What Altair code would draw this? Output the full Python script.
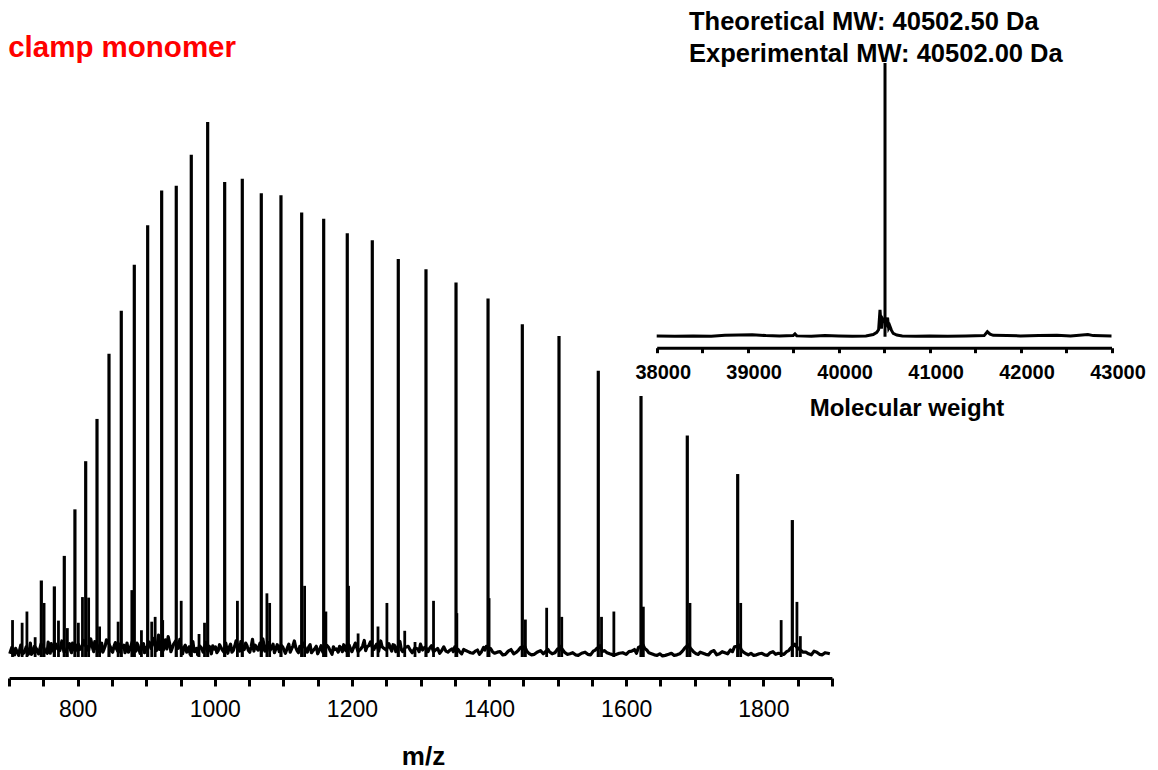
import altair as alt
import pandas as pd

FONT = "Liberation Sans"

# ---- main spectrum: charge-state peaks (m/z, relative intensity) ----
peak_mz = [747, 766, 780.5, 796, 811.7, 828.2, 845.7, 863.6, 882.6, 902.1, 922.5,
           943.8, 965.7, 989.6, 1014.4, 1040.1, 1067.8, 1096.5, 1126.7, 1158.8,
           1193.2, 1229.7, 1267.6, 1308, 1351.8, 1398.5, 1448.5, 1502, 1559.3,
           1621.6, 1689.1, 1762.6, 1842.3]
peak_int = [14.3, 13.2, 18.9, 27.6, 36.6, 44.5, 56.7, 64.7, 73.3, 80.7, 87.2,
            88.1, 93.9, 100, 88.8, 89.4, 86.7, 86.3, 83.1, 81.9,
            79.2, 77.9, 74.4, 72.5, 70.0, 67.0, 62.2, 60.0, 53.5,
            48.8, 41.4, 34.2, 25.6]

# ---- small side peaks / adducts ----
minor_mz = [705, 719, 726, 738, 751, 772, 785, 801, 807, 816, 832, 859, 879, 893,
            908, 913, 924, 951, 977, 985, 1033, 1076, 1080, 1131, 1162, 1195,
            1209, 1238, 1251, 1277, 1292, 1319, 1353, 1400, 1453, 1484, 1506,
            1564, 1582, 1625, 1693, 1767, 1826, 1849, 1854]
minor_int = [6.9, 6.4, 8.5, 3.7, 10.1, 6.8, 5.4, 6.4, 11.2, 11.1, 5.7, 6.6, 12.5, 5.0,
             6.6, 7.5, 6.9, 10.5, 4.3, 6.4, 10.5, 11.9, 10.1, 13.3, 8.5, 13.3,
             4.4, 5.7, 10.1, 4.9, 2.8, 10.5, 8.2, 11.0, 7.0, 9.2, 7.5,
             7.5, 8.5, 9.4, 10.1, 10.1, 6.9, 10.3, 3.9]

# ---- baseline noise trace ----
noise_mz = [701, 704, 708, 711, 714, 717, 722, 728, 731, 734,
            740, 743, 750, 754, 757, 760, 763, 768, 774, 777,
            783, 788, 791, 794, 799, 803, 809, 813, 819, 822,
            825, 830, 835, 838, 842, 848, 851, 855, 858, 861,
            866, 869, 872, 876, 880, 885, 888, 891, 896, 899,
            904, 910, 915, 918, 921, 925, 928, 932, 936, 940,
            946, 949, 953, 957, 961, 964, 968, 972, 975, 980,
            983, 987, 992, 995, 999, 1003, 1007, 1011, 1016, 1019,
            1023, 1027, 1031, 1035, 1038, 1043, 1047, 1051, 1055, 1059,
            1063, 1066, 1070, 1073, 1078, 1083, 1087, 1091, 1094, 1099,
            1103, 1108, 1112, 1116, 1120, 1124, 1129, 1133, 1137, 1141,
            1146, 1150, 1155, 1160, 1166, 1171, 1175, 1180, 1184, 1188,
            1191, 1196, 1200, 1205, 1213, 1218, 1222, 1227, 1232, 1236,
            1242, 1246, 1254, 1258, 1262, 1266, 1270, 1274, 1282, 1288,
            1296, 1300, 1306, 1311, 1316, 1322, 1328, 1334, 1340, 1346,
            1350, 1355, 1360, 1366, 1373, 1380, 1386, 1392, 1396, 1402,
            1408, 1416, 1424, 1432, 1440, 1446, 1452, 1458, 1466, 1475,
            1488, 1492, 1500, 1504, 1510, 1518, 1526, 1535, 1544, 1552,
            1557, 1562, 1568, 1576, 1586, 1595, 1604, 1612, 1618, 1624,
            1630, 1637, 1645, 1653, 1662, 1670, 1678, 1685, 1690, 1698,
            1705, 1712, 1720, 1728, 1736, 1744, 1752, 1758, 1765, 1771,
            1778, 1786, 1794, 1802, 1810, 1818, 1822, 1834, 1840, 1846,
            1852, 1858, 1866, 1874, 1882, 1890, 1897]
noise_int = [0.6, 1.8, 0.4, 1.2, 0.3, 2.2, 0.8, 0.5, 2.6, 0.7,
             1.5, 0.6, 1.9, 0.9, 2.8, 0.7, 1.6, 2.4, 1.2, 3.0,
             1.1, 2.5, 0.8, 1.7, 2.2, 1.4, 3.1, 2.0, 3.4, 1.6,
             2.9, 1.0, 2.6, 1.3, 3.2, 1.8, 0.9, 2.7, 1.2, 2.4,
             1.9, 0.8, 2.6, 1.4, 3.0, 1.1, 2.2, 0.7, 2.5, 1.5,
             2.8, 3.5, 1.2, 4.1, 2.0, 1.3, 3.2, 3.8, 1.0, 2.4,
             1.6, 3.3, 0.6, 2.2, 1.4, 0.5, 2.9, 1.1, 0.4, 1.8,
             0.9, 2.7, 2.0, 0.6, 1.5, 0.8, 2.3, 1.3, 2.6, 0.7,
             2.4, 1.2, 3.0, 1.6, 2.9, 1.4, 2.1, 0.9, 3.3, 2.2,
             1.3, 2.6, 3.4, 1.1, 2.7, 1.8, 0.8, 2.3, 1.0, 1.9,
             0.7, 2.4, 1.5, 3.0, 1.2, 2.0, 2.6, 1.4, 1.9, 0.8,
             1.6, 0.6, 2.1, 1.3, 1.8, 0.5, 1.4, 0.9, 1.7, 2.3,
             1.2, 2.2, 1.0, 2.6, 1.5, 3.1, 1.9, 2.8, 1.4, 2.4,
             3.0, 1.7, 2.5, 1.1, 2.2, 1.6, 2.9, 1.0, 2.0, 0.8,
             1.5, 2.4, 1.8, 1.0, 2.1, 1.3, 0.7, 1.9, 0.9, 1.5,
             1.9, 1.4, 0.6, 1.2, 0.8, 1.1, 0.5, 1.8, 2.0, 1.6,
             0.7, 1.0, 0.5, 1.4, 0.9, 1.8, 2.0, 0.7, 0.5, 1.2,
             1.0, 0.6, 1.5, 2.0, 0.9, 0.6, 0.4, 0.7, 0.5, 1.1,
             1.6, 2.1, 1.2, 0.6, 0.5, 0.8, 1.0, 1.4, 1.8, 2.4,
             1.3, 0.6, 0.3, 0.2, 0.5, 0.3, 0.6, 1.6, 2.3, 1.0,
             0.5, 0.7, 0.4, 1.2, 0.6, 0.8, 1.3, 1.9, 2.2, 0.9,
             0.4, 0.3, 0.6, 0.4, 0.8, 0.5, 0.7, 1.0, 1.7, 2.4,
             1.5, 0.9, 0.6, 1.1, 0.5, 0.8, 0.6]

# extra noise samples read between the ones above (dense low-m/z region)
noise2_mz = [702.5, 706, 709.5, 712.5, 715.5, 719.5, 725, 729.5, 732.5, 737,
             741.5, 746.5, 752, 755.5, 758.5, 761.5, 765.5, 771, 775.5, 780,
             785.5, 789.5, 792.5, 796.5, 801, 806, 811, 816, 820.5, 823.5,
             827.5, 832.5, 836.5, 840, 845, 849.5, 853, 856.5, 859.5, 863.5,
             867.5, 870.5, 874, 878, 882.5, 886.5, 889.5, 893.5, 897.5, 901.5,
             907, 912.5, 916.5, 919.5, 923, 926.5, 930, 934, 938, 943,
             947.5, 951, 955, 959, 962.5, 966, 970, 973.5, 977.5, 981.5,
             985, 989.5, 993.5, 997, 1001, 1005, 1009, 1013.5, 1017.5, 1021,
             1025, 1029, 1033, 1036.5, 1040.5, 1045, 1049, 1053, 1057, 1061,
             1064.5, 1068, 1071.5, 1075.5, 1080.5, 1085, 1089, 1092.5, 1096.5, 1101,
             1105.5, 1110, 1114, 1118, 1122, 1126.5, 1131, 1135, 1139, 1143.5,
             1148, 1152.5, 1157.5, 1163, 1168.5, 1173, 1177.5, 1182, 1186, 1189.5,
             1193.5, 1198, 1202.5, 1209, 1215.5, 1220, 1224.5, 1229.5, 1234, 1239,
             1244, 1250, 1256, 1260, 1264, 1268, 1272, 1278, 1285, 1292,
             1298, 1303, 1308.5, 1313.5, 1319, 1325, 1331, 1337, 1343, 1348,
             1352.5, 1357.5, 1363, 1369.5, 1376.5, 1383, 1389, 1394, 1399, 1405]
noise2_int = [1.2, 0.5, 1.6, 0.8, 1.4, 0.6, 1.9, 1.1, 0.5, 2.0,
              0.9, 2.4, 1.3, 0.7, 1.8, 2.5, 0.9, 1.5, 2.1, 1.0,
              2.0, 1.3, 2.6, 1.1, 2.4, 1.9, 2.2, 1.2, 2.5, 1.0,
              1.7, 2.3, 0.9, 2.0, 2.6, 1.1, 2.0, 1.6, 0.9, 1.7,
              2.2, 1.5, 0.9, 2.2, 1.7, 2.6, 1.4, 1.9, 0.8, 2.0,
              1.6, 2.3, 2.7, 1.4, 2.9, 2.4, 1.5, 2.6, 1.7, 3.0,
              2.2, 1.5, 1.8, 0.9, 1.9, 1.3, 1.0, 1.6, 2.1, 1.4,
              1.8, 1.1, 1.3, 2.1, 1.9, 1.2, 1.8, 0.9, 1.5, 1.8,
              0.9, 2.0, 2.3, 1.1, 1.7, 2.6, 1.2, 1.9, 1.1, 1.7,
              2.0, 1.0, 2.4, 1.9, 1.2, 2.4, 1.5, 1.8, 2.2, 1.3,
              1.6, 0.9, 2.1, 1.8, 0.8, 1.7, 1.9, 0.9, 2.3, 1.2,
              2.0, 1.3, 0.9, 2.2, 1.1, 1.9, 1.5, 2.0, 1.0, 1.6,
              2.5, 1.5, 1.8, 1.0, 2.0, 1.2, 2.1, 1.9, 2.0, 1.1,
              1.9, 1.3, 1.7, 2.3, 1.0, 2.2, 1.4, 1.8, 1.3, 1.7,
              1.0, 1.3, 1.6, 1.7, 1.0, 1.6, 1.2, 1.1, 1.3, 1.0,
              1.2, 0.9, 1.4, 1.0, 0.7, 1.3, 1.0, 1.3, 1.7, 1.0]

# extra noise samples for the quieter high-m/z region
noise3_mz = [1412, 1420, 1428, 1436, 1443, 1449, 1455, 1462, 1470, 1479,
             1486, 1496, 1502.5, 1507, 1514, 1522, 1530, 1540, 1548, 1555,
             1560, 1565, 1572, 1581, 1590, 1600, 1608, 1615, 1621, 1627,
             1633, 1641, 1649, 1657, 1666, 1674, 1682, 1688, 1694, 1702,
             1708, 1716, 1724, 1732, 1740, 1748, 1755, 1762, 1768, 1775,
             1782, 1790, 1798, 1806, 1814, 1830, 1837, 1843, 1849, 1855,
             1862, 1870, 1878, 1886, 1894]
noise3_int = [0.9, 0.4, 1.1, 0.6, 1.3, 1.5, 1.1, 0.4, 0.9, 0.6,
              1.4, 0.8, 1.3, 1.4, 0.5, 0.8, 0.3, 0.9, 0.4, 1.3,
              1.8, 1.0, 0.8, 0.4, 0.7, 0.5, 1.1, 0.7, 2.0, 1.6,
              0.8, 0.4, 0.6, 0.3, 0.7, 0.4, 1.1, 2.0, 1.6, 0.6,
              0.9, 0.5, 1.0, 0.4, 1.0, 0.6, 1.0, 2.0, 1.3, 0.6,
              0.7, 0.4, 0.7, 0.3, 1.0, 0.5, 1.2, 2.0, 1.8, 1.2,
              0.9, 0.4, 0.9, 0.4, 0.7]

# ---- inset: deconvoluted spectrum ----
inset_mw = [38000, 38200, 38400, 38600, 38750, 38900, 39050, 39200, 39350, 39500,
            39520, 39540, 39700, 39850, 40000, 40150, 40300, 40380, 40420, 40440,
            40455, 40470, 40485, 40525, 40538, 40550, 40562, 40580, 40600, 40640,
            40700, 40850, 41000, 41200, 41400, 41600, 41635, 41665, 41700, 41850,
            42000, 42200, 42400, 42550, 42740, 42800, 43000]
inset_int = [0.3, 0.2, 0.3, 0.2, 0.5, 0.6, 0.7, 0.4, 0.3, 0.4,
             1.0, 0.3, 0.2, 0.4, 0.3, 0.2, 0.3, 0.8, 1.6, 2.6,
             9.8, 3.0, 6.5, 4.5, 7.0, 3.2, 4.0, 2.4, 1.2, 0.6,
             0.3, 0.2, 0.3, 0.2, 0.3, 0.4, 1.8, 0.9, 0.5, 0.4,
             0.3, 0.4, 0.5, 0.3, 0.8, 0.4, 0.3]
inset_peak_mw = [40510]
inset_peak_int = [100]

title_text = ["clamp monomer"]
mw_text = ["Theoretical MW: 40502.50 Da", "Experimental MW: 40502.00 Da"]

# ---- tables ----
trace = pd.DataFrame({
    "mz": noise_mz + noise2_mz + noise3_mz,
    "I": noise_int + noise2_int + noise3_int,
}).sort_values("mz")
peaks = pd.DataFrame({"mz": peak_mz, "I": peak_int})
minors = pd.DataFrame({"mz": minor_mz, "I": minor_int})
title_df = pd.DataFrame({"mz": [698.6], "I": [112.15], "t": title_text})
inset_df = pd.DataFrame({"mw": inset_mw, "I": inset_int})
inset_pk = pd.DataFrame({"mw": inset_peak_mw, "I": inset_peak_int})
mw_df = pd.DataFrame({"mw": [38355, 38355], "I": [112.06, 100.5], "t": mw_text})

# ---- main scales / axis ----
x_main_scale = alt.Scale(domain=[700, 1900], range=[1.1, 823.9], nice=False, zero=False)
y_main_scale = alt.Scale(domain=[-3.925, 121.31], nice=False, zero=False)
main_axis = alt.Axis(
    values=list(range(700, 1901, 50)), format="d",
    labelExpr="datum.value % 200 == 0 ? datum.label : ''",
    orient="bottom", grid=False,
    domainColor="black", domainWidth=3, tickColor="black", tickWidth=3, tickSize=8,
    labelFont=FONT, labelFontSize=23, labelColor="black", labelPadding=12,
    labelFlush=False, labelOverlap=False,
    title="m/z", titleFont=FONT, titleFontSize=26, titleFontWeight="bold",
    titleColor="black", titlePadding=22, titleX=415,
)
xm = alt.X("mz:Q", scale=x_main_scale, axis=main_axis, title="m/z")
ym = alt.Y("I:Q", scale=y_main_scale, axis=None)

line = alt.Chart(trace).mark_line(color="black", strokeWidth=3.2, strokeJoin="round").encode(x=xm, y=ym)
minor_rules = alt.Chart(minors).mark_rule(color="black", strokeWidth=2.8).encode(x=xm, y=ym, y2=alt.datum(0))
rules = alt.Chart(peaks).mark_rule(color="black", strokeWidth=3.2).encode(x=xm, y=ym, y2=alt.datum(0))
title_mark = alt.Chart(title_df).mark_text(
    font=FONT, fontSize=29.5, fontWeight="bold", color="#ff0000",
    align="left", baseline="alphabetic",
).encode(x=xm, y=ym, text="t:N")
main = alt.layer(line, minor_rules, rules, title_mark)

# ---- inset scales / axis ----
x_in_scale = alt.Scale(domain=[38000, 43000], range=[648.7, 1103.5], nice=False, zero=False)
y_in_scale = alt.Scale(domain=[0, 100], range=[328.7, 55], nice=False, zero=False)
inset_axis = alt.Axis(
    values=list(range(38000, 43001, 500)), format="d",
    labelExpr="datum.value % 1000 == 0 ? datum.label : ''",
    orient="bottom", offset=-330.3, grid=False,
    domainColor="black", domainWidth=3, tickColor="black", tickWidth=3, tickSize=5,
    labelFont=FONT, labelFontSize=20, labelFontWeight="bold", labelColor="black",
    labelPadding=10, labelOffset=6, labelFlush=False, labelOverlap=False,
    title="Molecular weight", titleFont=FONT, titleFontSize=24, titleFontWeight="bold",
    titleColor="black", titlePadding=14, titleX=898.5,
)
xi = alt.X("mw:Q", scale=x_in_scale, axis=inset_axis, title="Molecular weight")
yi = alt.Y("I:Q", scale=y_in_scale, axis=None)

in_line = alt.Chart(inset_df).mark_line(color="black", strokeWidth=3).encode(x=xi, y=yi)
in_rule = alt.Chart(inset_pk).mark_rule(color="black", strokeWidth=3).encode(x=xi, y=yi, y2=alt.datum(0))
in_text = alt.Chart(mw_df).mark_text(
    font=FONT, fontSize=25.5, fontWeight="bold", color="black",
    align="left", baseline="alphabetic",
).encode(x=xi, y=yi, text="t:N")
inset = alt.layer(in_line, in_rule, in_text)

chart = (
    alt.layer(main, inset)
    .resolve_scale(x="independent", y="independent")
    .properties(
        width=1142, height=670,
        padding={"left": 0, "top": 0, "right": 0, "bottom": 92},
        autosize=alt.AutoSizeParams(type="none"),
        background="white",
    )
    .configure_view(stroke=None)
)

chart.save("out.html", embed_options={"renderer": "svg", "actions": False})
